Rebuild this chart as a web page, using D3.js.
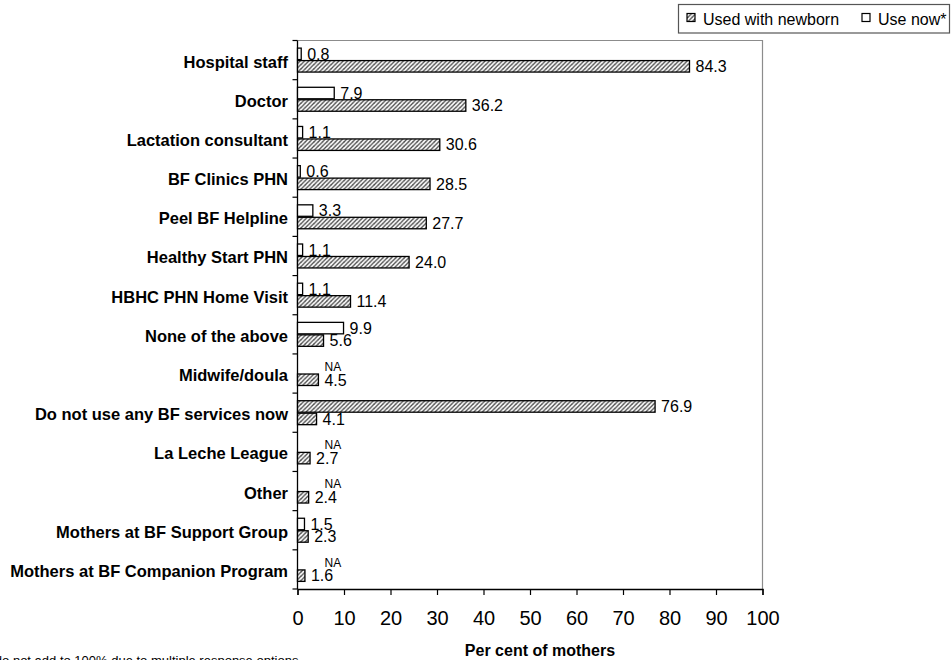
<!DOCTYPE html>
<html>
<head>
<meta charset="utf-8">
<script src="https://cdn.jsdelivr.net/npm/d3@7"></script>
<style>
  html, body { margin: 0; padding: 0; background: #fff; }
  svg { display: block; font-family: Arial, "Liberation Sans", sans-serif; }
</style>
</head>
<body>
<svg id="chart" width="951" height="660"></svg>
<script>
// Breastfeeding support sources, per cent of mothers
const categories = [
  "Hospital staff",
  "Doctor",
  "Lactation consultant",
  "BF Clinics PHN",
  "Peel BF Helpline",
  "Healthy Start PHN",
  "HBHC PHN Home Visit",
  "None of the above",
  "Midwife/doula",
  "Do not use any BF services now",
  "La Leche League",
  "Other",
  "Mothers at BF Support Group",
  "Mothers at BF Companion Program"
];
const usedWithNewborn = [84.3, 36.2, 30.6, 28.5, 27.7, 24.0, 11.4, 5.6, 4.5, 4.1, 2.7, 2.4, 2.3, 1.6];
// null = not asked (shown as NA)
const useNow = [0.8, 7.9, 1.1, 0.6, 3.3, 1.1, 1.1, 9.9, null, 76.9, null, null, 1.5, null];
const xTicks = [0, 10, 20, 30, 40, 50, 60, 70, 80, 90, 100];
const seriesNames = ["Used with newborn", "Use now*"];
const xTitle = "Per cent of mothers";
const footnote = "*Percentages do not add to 100% due to multiple response options.";

// the "use now" bar of this row is drawn with the hatched fill
const hatchedNowRows = new Set(["Do not use any BF services now"]);

const svg = d3.select("#chart");

const defs = svg.append("defs");
const pat = defs.append("pattern")
  .attr("id", "hatch")
  .attr("patternUnits", "userSpaceOnUse")
  .attr("width", 4.3).attr("height", 4.3);
pat.append("rect").attr("width", 4.3).attr("height", 4.3).attr("fill", "#fff");
pat.append("path")
  .attr("d", "M-1,1.1 L1.1,-1 M0,4.3 L4.3,0 M3.2,5.3 L5.3,3.2")
  .attr("stroke", "#4a4a4a").attr("stroke-width", 1.3);

const plot = { left: 297.5, right: 762.5, top: 40.5, bottom: 589 };

const x = d3.scaleLinear().domain([0, 100]).range([plot.left, plot.right]);
const y = d3.scaleBand().domain(categories).range([plot.top, plot.bottom]);
const sub = d3.scaleBand().domain(["now", "newborn"]).range([0, y.bandwidth()])
  .paddingInner(0.08).paddingOuter(0.61);

const rows = categories.map((c, i) => ({ cat: c, newborn: usedWithNewborn[i], now: useNow[i] }));

// plot frame (top and right edges)
svg.append("path")
  .attr("d", `M${plot.left},${plot.top} H${plot.right} V${plot.bottom}`)
  .attr("fill", "none").attr("stroke", "#8c8c8c").attr("stroke-width", 1.2);

// x axis
const xAxis = svg.append("g")
  .attr("transform", `translate(0,${plot.bottom})`)
  .call(d3.axisBottom(x).tickValues(xTicks).tickSize(6).tickPadding(16).tickFormat(d3.format("d")));
xAxis.select(".domain").attr("stroke", "#000").attr("stroke-width", 1.3);
xAxis.selectAll(".tick line").attr("stroke", "#000").attr("stroke-width", 1.2);
xAxis.selectAll(".tick text").attr("font-size", 20).attr("fill", "#000")
  .attr("font-family", "Arial, 'Liberation Sans', sans-serif");

// y axis line with boundary ticks
const yAxis = svg.append("g");
yAxis.append("line")
  .attr("x1", plot.left).attr("x2", plot.left)
  .attr("y1", plot.top).attr("y2", plot.bottom)
  .attr("stroke", "#000").attr("stroke-width", 1.3);
const bounds = categories.map(c => y(c)).concat([plot.bottom]);
yAxis.selectAll(".btick").data(bounds).join("line")
  .attr("x1", plot.left - 5).attr("x2", plot.left)
  .attr("y1", d => d).attr("y2", d => d)
  .attr("stroke", "#000").attr("stroke-width", 1.2);

// category labels
svg.append("g").selectAll("text").data(categories).join("text")
  .attr("x", 288)
  .attr("y", d => y(d) + y.bandwidth() / 2 + 7.5)
  .attr("text-anchor", "end")
  .attr("font-size", 16.5).attr("font-weight", "bold").attr("fill", "#000")
  .text(d => d);

// bars
const g = svg.append("g");
g.selectAll(".bar-newborn").data(rows).join("rect")
  .attr("x", x(0))
  .attr("y", d => y(d.cat) + sub("newborn"))
  .attr("width", d => x(d.newborn) - x(0))
  .attr("height", sub.bandwidth())
  .attr("fill", "url(#hatch)").attr("stroke", "#000").attr("stroke-width", 1.3);

g.selectAll(".bar-now").data(rows.filter(d => d.now != null)).join("rect")
  .attr("x", x(0))
  .attr("y", d => y(d.cat) + sub("now"))
  .attr("width", d => x(d.now) - x(0))
  .attr("height", sub.bandwidth())
  .attr("fill", d => hatchedNowRows.has(d.cat) ? "url(#hatch)" : "#fff")
  .attr("stroke", "#000").attr("stroke-width", 1.3);

// value labels
const fmt = d3.format(".1f");
g.selectAll(".lab-newborn").data(rows).join("text")
  .attr("x", d => x(d.newborn) + 6)
  .attr("y", d => y(d.cat) + sub("newborn") + sub.bandwidth() / 2 + 5.8)
  .attr("font-size", 16).attr("fill", "#000")
  .text(d => fmt(d.newborn));

g.selectAll(".lab-now").data(rows).join("text")
  .attr("x", d => d.now != null ? x(d.now) + 6 : x(0) + 27)
  .attr("y", d => y(d.cat) + sub("now") + sub.bandwidth() / 2 + (d.now != null ? 5.8 : 3.5))
  .attr("font-size", d => d.now != null ? 16 : 12).attr("fill", "#000")
  .text(d => d.now != null ? fmt(d.now) : "NA");

// axis title
svg.append("text")
  .attr("x", 540).attr("y", 656)
  .attr("text-anchor", "middle")
  .attr("font-size", 16).attr("font-weight", "bold").attr("fill", "#000")
  .text(xTitle);

// footnote
svg.append("text")
  .attr("x", 302).attr("y", 664.5)
  .attr("text-anchor", "end")
  .attr("font-size", 13).attr("fill", "#000")
  .text(footnote);

// legend
const lg = svg.append("g");
lg.append("rect")
  .attr("x", 678.5).attr("y", 4.5).attr("width", 271).attr("height", 28.5)
  .attr("fill", "#fff").attr("stroke", "#555").attr("stroke-width", 1.2);
const legendItems = [
  { name: seriesNames[0], fill: "url(#hatch)", x: 687 },
  { name: seriesNames[1], fill: "#fff", x: 862 }
];
lg.selectAll(".sw").data(legendItems).join("rect")
  .attr("x", d => d.x).attr("y", 13.5).attr("width", 8).attr("height", 8)
  .attr("fill", d => d.fill).attr("stroke", "#000").attr("stroke-width", 1.2);
lg.selectAll(".lt").data(legendItems).join("text")
  .attr("x", d => d.x + 16).attr("y", 24.5)
  .attr("font-size", 16).attr("fill", "#000")
  .text(d => d.name);
</script>
</body>
</html>
